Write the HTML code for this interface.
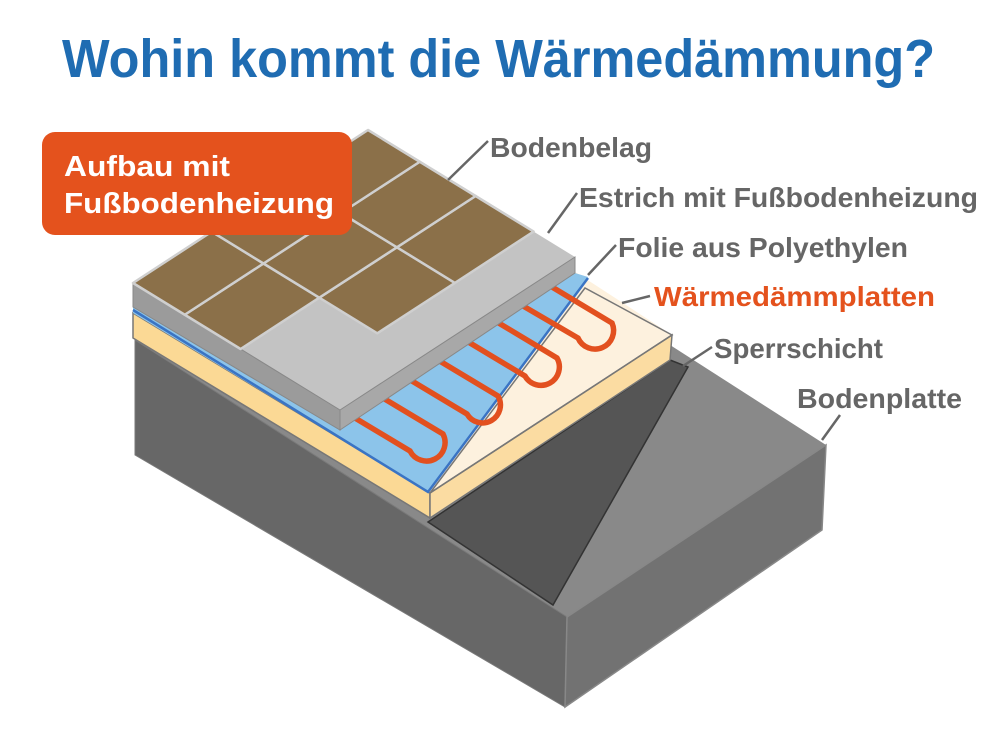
<!DOCTYPE html>
<html><head><meta charset="utf-8"><style>
html,body{margin:0;padding:0;background:#fff;}
svg{display:block;}
text{font-family:"Liberation Sans",sans-serif;font-weight:bold;}
</style></head><body>
<svg width="1000" height="732" viewBox="0 0 1000 732" xmlns="http://www.w3.org/2000/svg">
<rect width="1000" height="732" fill="#fff"/>
<text x="62" y="77" font-size="54" fill="#1f6cb2" textLength="873" lengthAdjust="spacingAndGlyphs">Wohin kommt die Wärmedämmung?</text>

<!-- Slab -->
<polygon points="135,340 394,168 826,445 567,617" fill="#898989"/>
<polygon points="135,340 567,617 565,707 135,455" fill="#676767" stroke="#7a7a7a" stroke-width="1"/>
<polygon points="567,617 826,445 822,530 565,707" fill="#727272" stroke="#888" stroke-width="1.5"/>
<!-- Sperrschicht -->
<polygon points="428,522 670,360 688,367 553,605" fill="#555" stroke="#333" stroke-width="1.5"/>

<!-- Insulation -->
<polygon points="133,313 388,150 672,335 430,493" fill="#fdf1de"/>
<polygon points="133,313 430,493 430,518 133,338" fill="#fbd995" stroke="#777" stroke-width="1.5"/>
<polygon points="430,493 672,335 670,360 430,518" fill="#fbdca2" stroke="#777" stroke-width="1.5"/>
<polygon points="430,493 672,335 585,288" fill="none" stroke="#777" stroke-width="1.5"/>
<!-- Foil -->
<polygon points="133,307 340,430 575,273 588,277 428,492 133,313" fill="#8cc4ea"/>
<polyline points="133,310 428,492 588,278" fill="none" stroke="#3a74c4" stroke-width="2.5"/>

<!-- Pipes -->
<g fill="none" stroke="#e2501f" stroke-width="5.5" stroke-linecap="round">
<path d="M552,287 L612,323 A17 17 0 0 1 578,338 L518,303"/>
<path d="M497,322 L557,358 A17 17 0 0 1 525,376 L465,340"/>
<path d="M438,360 L498,396 A17 17 0 0 1 467,414 L407,378"/>
<path d="M383,398 L443,434 A17 17 0 0 1 410,451 L350,415"/>
</g>

<!-- Screed -->
<polygon points="133,283 368,130 575,257 340,410" fill="#c3c3c3"/>
<polygon points="133,283 340,410 340,430 133,307" fill="#9b9b9b" stroke="#888" stroke-width="1"/>
<polygon points="340,410 575,257 575,273 340,430" fill="#a8a8a8" stroke="#888" stroke-width="1"/>

<!-- Tiles -->
<g fill="#8b7049" stroke="#cfcfcf" stroke-width="2.5" stroke-linejoin="round">
<polygon points="240.6,349 319.3,297.7 263.5,263.5 184.75,314.75"/>
<polygon points="184.75,314.75 263.5,263.5 211.7,231.7 133,283"/>
<polygon points="377.3,333.3 454.9,282.9 396.9,247.3 319.3,297.7"/>
<polygon points="319.3,297.7 396.9,247.3 341,213 263.5,263.5"/>
<polygon points="263.5,263.5 341,213 289.3,181.3 211.7,231.7"/>
<polygon points="454.9,282.9 533.6,231.6 475.6,196 396.9,247.3"/>
<polygon points="396.9,247.3 475.6,196 419.75,161.75 341,213"/>
<polygon points="341,213 419.75,161.75 368,130 289.3,181.3"/>
</g>

<!-- Label box -->
<rect x="42" y="132" width="310" height="103" rx="13" fill="#e4521d"/>
<text x="64" y="176" font-size="29" fill="#fff" textLength="166" lengthAdjust="spacingAndGlyphs">Aufbau mit</text>
<text x="64" y="213" font-size="29" fill="#fff" textLength="270" lengthAdjust="spacingAndGlyphs">Fußbodenheizung</text>

<!-- Leaders -->
<g stroke="#666" stroke-width="2.5" fill="none">
<line x1="488" y1="141" x2="448" y2="180"/>
<line x1="577" y1="193" x2="548" y2="233"/>
<line x1="616" y1="245" x2="588" y2="275"/>
<line x1="650" y1="296" x2="622" y2="303"/>
<line x1="712" y1="347" x2="683" y2="366"/>
<line x1="840" y1="415" x2="822" y2="440"/>
</g>
<g font-size="28" fill="#666">
<text x="490" y="157" textLength="162" lengthAdjust="spacingAndGlyphs">Bodenbelag</text>
<text x="579" y="207" textLength="399" lengthAdjust="spacingAndGlyphs">Estrich mit Fußbodenheizung</text>
<text x="618" y="257" textLength="290" lengthAdjust="spacingAndGlyphs">Folie aus Polyethylen</text>
<text x="654" y="306" fill="#e4521d" textLength="281" lengthAdjust="spacingAndGlyphs">Wärmedämmplatten</text>
<text x="714" y="358" textLength="169" lengthAdjust="spacingAndGlyphs">Sperrschicht</text>
<text x="797" y="408" textLength="165" lengthAdjust="spacingAndGlyphs">Bodenplatte</text>
</g>
</svg>
</body></html>
